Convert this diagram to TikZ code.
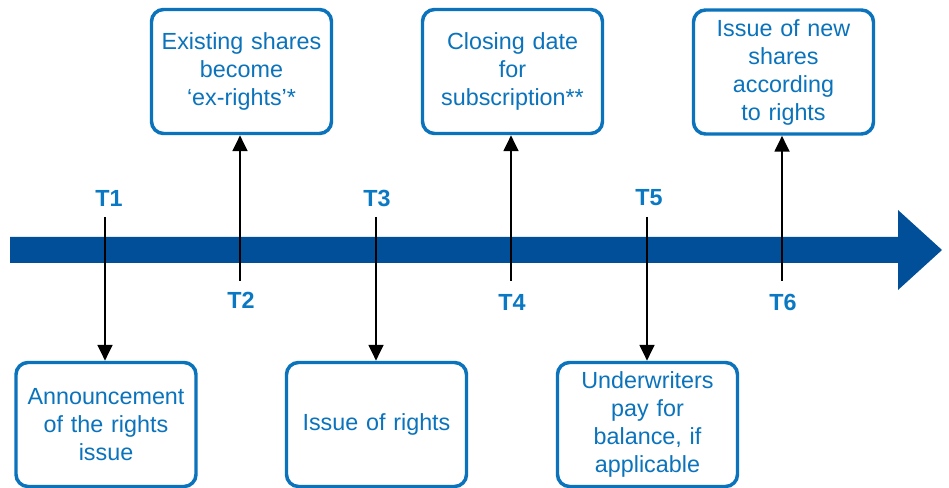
\documentclass[tikz,border=0pt]{standalone}
\usepackage{fontspec}
\setmainfont{Liberation Sans}
\usetikzlibrary{arrows.meta}
\definecolor{barblue}{HTML}{004F98}
\definecolor{boxblue}{HTML}{0A73BC}
\definecolor{tblue}{HTML}{0A78C2}
\tikzset{
  evbox/.style={draw=boxblue, line width=2.6pt, rounded corners=9pt, fill=white,
    minimum width=135pt, minimum height=93pt, text width=132pt, align=center,
    text=boxblue, font=\fontsize{17.5}{21}\selectfont, inner sep=0pt},
  tlabel/.style={text=tblue, font=\fontsize{17.5}{20}\selectfont\bfseries, inner sep=0pt},
  conn/.style={draw=black, line width=2.1pt, -{Triangle[length=12pt,width=11pt]}},
}
\begin{document}
\begin{tikzpicture}[x=0.75pt,y=-0.75pt]
\useasboundingbox (0,0) rectangle (949,488);
% timeline bar
\fill[barblue] (10,237) -- (898,237) -- (898,210) -- (942,250) -- (898,290) -- (898,263) -- (10,263) -- cycle;
% top boxes
\node[evbox] (b2) at (241.5,71.5) {Existing shares\\become\\‘ex-rights’*};
\node[evbox] (b4) at (512.5,71.5) {Closing date\\for\\subscription**};
\node[evbox] (b6) at (783.5,72) {Issue of new\\shares\\according\\to rights};
% bottom boxes
\node[evbox] (b1) at (106,424.5) {Announcement\\of the rights\\issue};
\node[evbox] (b3) at (376.5,424.5) {Issue of rights};
\node[evbox] (b5) at (647.5,424.5) {Underwriters\\pay for\\balance, if\\applicable};
% labels
\node[tlabel] (t1) at (109,198) {T1};
\node[tlabel] (t2) at (241,300) {T2};
\node[tlabel] (t3) at (377,198) {T3};
\node[tlabel] (t4) at (512,302) {T4};
\node[tlabel] (t5) at (649,198) {T5};
\node[tlabel] (t6) at (783,302) {T6};
% connector start points
\coordinate (s1) at (105,217);
\coordinate (s2) at (240,281);
\coordinate (s3) at (376,217);
\coordinate (s4) at (511,281);
\coordinate (s5) at (647,217);
\coordinate (s6) at (782,281);
\draw[conn] (s1) -- (s1 |- b1.north);
\draw[conn] (s3) -- (s3 |- b3.north);
\draw[conn] (s5) -- (s5 |- b5.north);
\draw[conn] (s2) -- (s2 |- b2.south);
\draw[conn] (s4) -- (s4 |- b4.south);
\draw[conn] (s6) -- (s6 |- b6.south);
\end{tikzpicture}
\end{document}
